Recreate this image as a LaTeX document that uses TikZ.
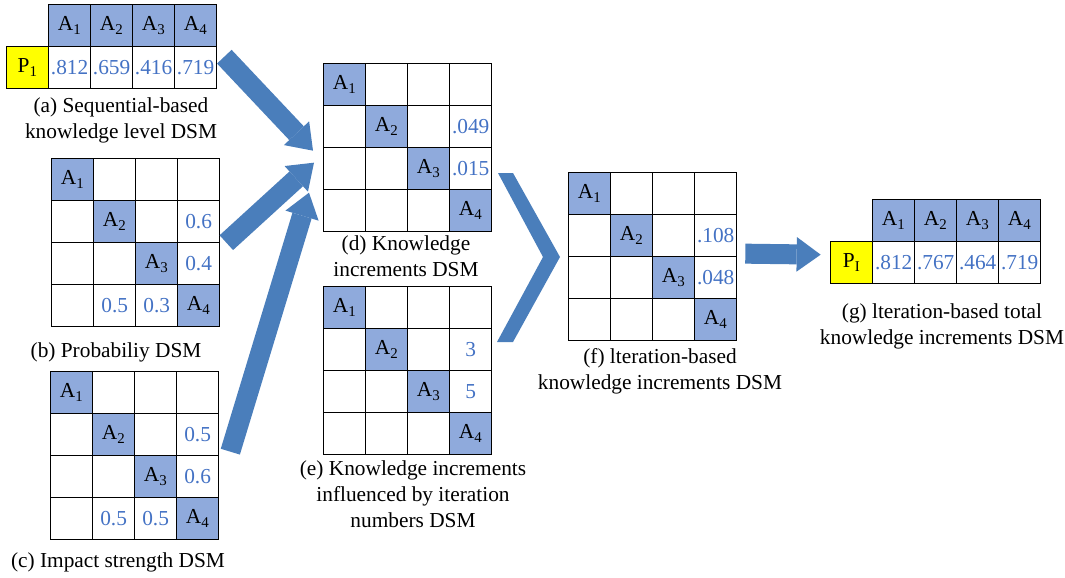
\documentclass[tikz,border=0pt]{standalone}
\usepackage{fontspec}
\setmainfont{Liberation Serif}
\usetikzlibrary{matrix, arrows.meta, positioning}

\definecolor{diagblue}{RGB}{143,170,220}
\definecolor{numblue}{RGB}{68,114,196}
\definecolor{arrowblue}{RGB}{74,126,187}
\definecolor{pyellow}{RGB}{255,255,0}

\begin{document}
\begin{tikzpicture}[
        x=0.75pt, y=-0.75pt,
        cell/.style={
            draw=black,
            line width=1pt,
            minimum width=31.5pt,
            minimum height=31.5pt,
            inner sep=0pt,
            outer sep=0pt,
            anchor=center,
            text=numblue,
            font=\fontsize{16}{19}\selectfont
        },
        diag/.style={fill=diagblue, text=black},
        pcell/.style={fill=pyellow, text=black},
        dsm/.style={
            matrix of nodes,
            nodes in empty cells,
            nodes={cell},
            column sep=-1pt,
            row sep=-1pt,
            inner sep=0pt,
            outer sep=0pt,
            anchor=north west
        },
        captext/.style={
            align=center,
            inner sep=0pt,
            font=\fontsize{16}{19.5}\selectfont
        },
        bigarrow/.style={
            line width=15pt,
            draw=arrowblue,
            -{Triangle[length=18pt, width=26pt, line width=0pt]}
        }
        ]

        \useasboundingbox (0,0) rectangle (1065,578);

        % left column
        \matrix (a) [dsm] at (6,4) {
            |[draw=none]| & |[diag]| A\textsubscript{1} & |[diag]| A\textsubscript{2} & |[diag]| A\textsubscript{3} & |[diag]| A\textsubscript{4} \\
            |[pcell]| P\textsubscript{1} & .812 & .659 & .416 & .719 \\
        };
        \matrix (b) [dsm] at (51,158) {
            |[diag]| A\textsubscript{1} & & & \\
            & |[diag]| A\textsubscript{2} & & 0.6 \\
            & & |[diag]| A\textsubscript{3} & 0.4 \\
            & 0.5 & 0.3 & |[diag]| A\textsubscript{4} \\
        };
        \matrix (c) [dsm] at (50,371) {
            |[diag]| A\textsubscript{1} & & & \\
            & |[diag]| A\textsubscript{2} & & 0.5 \\
            & & |[diag]| A\textsubscript{3} & 0.6 \\
            & 0.5 & 0.5 & |[diag]| A\textsubscript{4} \\
        };

        \node (a-cap) [captext] at (121,120) {(a) Sequential-based\\knowledge level DSM};
        \node (b-cap) [captext] at (116,352) {(b) Probabiliy DSM};
        \node (c-cap) [captext] at (118,562) {(c) Impact strength DSM};

        % middle column
        \matrix (d) [dsm] at (323,63) {
            |[diag]| A\textsubscript{1} & & & \\
            & |[diag]| A\textsubscript{2} & & .049 \\
            & & |[diag]| A\textsubscript{3} & .015 \\
            & & & |[diag]| A\textsubscript{4} \\
        };
        \matrix (e) [dsm] at (323,286) {
            |[diag]| A\textsubscript{1} & & & \\
            & |[diag]| A\textsubscript{2} & & 3 \\
            & & |[diag]| A\textsubscript{3} & 5 \\
            & & & |[diag]| A\textsubscript{4} \\
        };

        \node (d-cap) [captext] at (406,256) {(d) Knowledge\\increments DSM};
        \node (e-cap) [captext] at (413,494) {(e) Knowledge increments\\influenced by iteration\\numbers DSM};

        % right part
        \matrix (f) [dsm] at (568,172) {
            |[diag]| A\textsubscript{1} & & & \\
            & |[diag]| A\textsubscript{2} & & .108 \\
            & & |[diag]| A\textsubscript{3} & .048 \\
            & & & |[diag]| A\textsubscript{4} \\
        };
        \matrix (g) [dsm] at (830,199) {
            |[draw=none]| & |[diag]| A\textsubscript{1} & |[diag]| A\textsubscript{2} & |[diag]| A\textsubscript{3} & |[diag]| A\textsubscript{4} \\
            |[pcell]| P\textsubscript{I} & .812 & .767 & .464 & .719 \\
        };

        \node (f-cap) [captext] at (660,371) {(f) lteration-based\\knowledge increments DSM};
        \node (g-cap) [captext] at (942,326) {(g) lteration-based total\\knowledge increments DSM};

        % arrows
        \coordinate (a-out) at ([shift={(7,10)}]a.east);
        \coordinate (b-out) at ([shift={(6,0)}]b.east);
        \coordinate (c-out) at ([shift={(11,-4)}]c.east);
        \coordinate (d-in1) at ([shift={(-10,3)}]d.west);
        \coordinate (d-in2) at ([shift={(-9,15)}]d.west);
        \coordinate (d-in3) at ([shift={(-14,45)}]d.west);
        \coordinate (f-out) at ([shift={(8,-3)}]f.east);
        \coordinate (g-in) at ([shift={(-10,-8)}]g-2-1.west);

        \draw [bigarrow] (a-out) -- (d-in1);
        \draw [bigarrow] (b-out) -- (d-in2);
        \draw [bigarrow] (c-out) -- (d-in3);
        \draw [bigarrow] (f-out) -- (g-in);

        \fill [arrowblue] (498,173) -- (513,173) -- (560,257) -- (513,342)
            -- (497,342) -- (543,257) -- cycle;

    \end{tikzpicture}
\end{document}
